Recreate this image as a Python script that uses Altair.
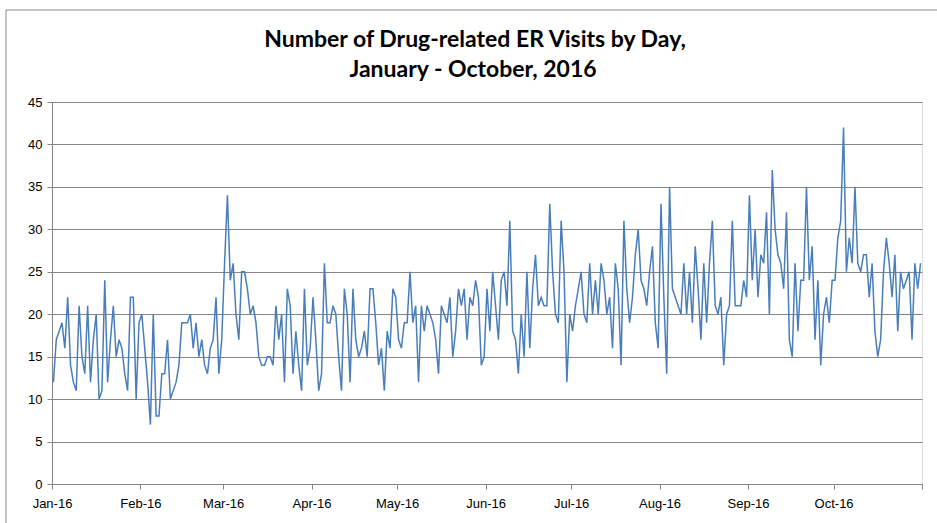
import altair as alt
import pandas as pd

# Daily drug-related ER visits, 2016
jan = [12, 17, 18, 19, 16, 22, 14, 12, 11, 21, 15, 13, 21, 12, 17, 20, 10, 11, 24, 12,
       17, 21, 15, 17, 16, 13, 11, 22, 22, 10, 19]
feb = [20, 16, 12, 7, 20, 8, 8, 13, 13, 17, 10, 11, 12, 14, 19, 19, 19, 20, 16, 19,
       15, 17, 14, 13, 16, 17, 22, 13, 17]
mar = [26, 34, 24, 26, 20, 17, 25, 25, 23, 20, 21, 19, 15, 14, 14, 15, 15, 14, 21, 17,
       20, 12, 23, 21, 13, 18, 14, 11, 23, 14, 16]
apr = [22, 17, 11, 13, 26, 19, 19, 21, 20, 15, 11, 23, 20, 12, 23, 17, 15, 16, 18, 15,
       23, 23, 19, 14, 16, 11, 18, 16, 23, 22]
may = [17, 16, 19, 19, 25, 19, 21, 12, 21, 18, 21, 20, 19, 17, 13, 21, 20, 19, 22, 15,
       18, 23, 21, 23, 17, 22, 21, 24, 22, 14, 15]
jun = [23, 18, 25, 21, 17, 24, 25, 21, 31, 18, 17, 13, 20, 15, 25, 16, 23, 27, 21, 22,
       21, 21, 33, 25, 20, 19, 31, 25, 12, 20]
jul = [18, 21, 23, 25, 20, 19, 26, 20, 24, 20, 26, 24, 20, 22, 16, 26, 23, 14, 31, 23,
       19, 22, 27, 30, 24, 23, 21, 25, 28, 19, 16]
aug = [33, 22, 13, 35, 23, 22, 21, 20, 26, 20, 25, 19, 28, 23, 17, 26, 19, 26, 31, 21,
       20, 22, 14, 20, 21, 31, 21, 21, 21, 24, 22]
sep = [34, 24, 30, 22, 27, 26, 32, 20, 37, 30, 27, 26, 23, 32, 17, 15, 26, 18, 24, 24,
       35, 24, 28, 17, 24, 14, 20, 22, 19, 24]
oct_ = [24, 29, 31, 42, 25, 29, 26, 35, 26, 25, 27, 27, 22, 26, 18, 15, 17, 25, 29, 26,
        22, 27, 18, 25, 23, 24, 25, 17, 26, 23, 26]

y_ticks = [0, 5, 10, 15, 20, 25, 30, 35, 40, 45]
title_line1 = "Number of Drug-related ER Visits by Day,"
title_line2 = "January - October, 2016"

values = jan + feb + mar + apr + may + jun + jul + aug + sep + oct_
dates = pd.date_range("2016-01-01", periods=len(values), freq="D")
df = pd.DataFrame({
    "date": [d.strftime("%Y-%m-%dT12:00:00Z") for d in dates],
    "visits": values,
})

month_ticks = [alt.DateTime(year=2016, month=m, date=1, utc=True) for m in range(1, 12)]
grey = "#868686"
font = "Liberation Sans"
title_font = "Lato"

line = alt.Chart(df).mark_line(color="#4A7EBB", strokeWidth=1.5).encode(
    x=alt.X(
        "date:T",
        scale=alt.Scale(
            type="utc",
            domain=[alt.DateTime(year=2016, month=1, date=1, utc=True),
                    alt.DateTime(year=2016, month=11, date=1, utc=True)],
        ),
        axis=alt.Axis(
            values=month_ticks,
            labelExpr="utcmonth(datum.value) == 10 ? '' : utcFormat(datum.value, '%b-%y')",
            title=None, grid=False, domainColor=grey, tickColor=grey, tickSize=5,
            labelFontSize=13, labelFont=font, labelColor="#000", labelPadding=8,
            labelAlign="center", labelOverlap=False,
        ),
    ),
    y=alt.Y(
        "visits:Q",
        scale=alt.Scale(domain=[0, 45], nice=False),
        axis=alt.Axis(
            values=y_ticks, title=None, grid=True, gridColor=grey, domainColor=grey,
            tickColor=grey, tickSize=5, labelFontSize=13, labelFont=font,
            labelColor="#000", labelPadding=5,
        ),
    ),
)

one = alt.Data(values=[{}])

border = alt.Chart(one).mark_rect(
    fill=None, stroke=grey, strokeWidth=1
).encode(
    x=alt.value(-46), x2=alt.value(895), y=alt.value(-92), y2=alt.value(430)
)

t1 = alt.Chart(one).mark_text(
    font=title_font, fontSize=23, fontWeight="bold", color="#000",
    align="center", baseline="alphabetic",
).encode(x=alt.value(423), y=alt.value(-55), text=alt.value(title_line1))

t2 = alt.Chart(one).mark_text(
    font=title_font, fontSize=23, fontWeight="bold", color="#000",
    align="center", baseline="alphabetic",
).encode(x=alt.value(421), y=alt.value(-25), text=alt.value(title_line2))

chart = alt.layer(border, line, t1, t2).properties(
    width=870,
    height=382,
    padding={"left": 52, "top": 102, "right": 15, "bottom": 39},
    autosize=alt.AutoSizeParams(type="none"),
).configure_view(stroke=None).configure(background="white")

chart.save("out.html", embed_options={"renderer": "svg", "actions": False})
